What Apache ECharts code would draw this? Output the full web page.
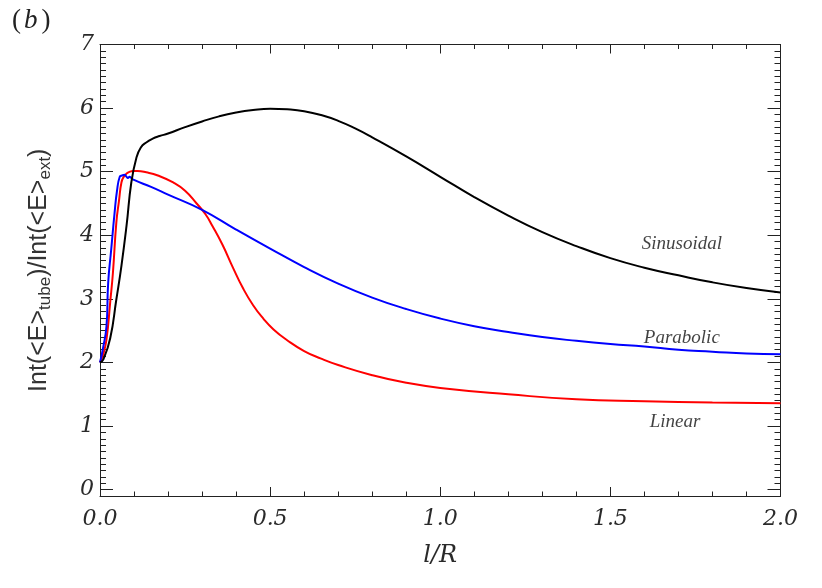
<!DOCTYPE html>
<html><head><meta charset="utf-8">
<script src="https://cdn.jsdelivr.net/npm/echarts@6/dist/echarts.min.js"></script>
<style>html,body{margin:0;padding:0;background:#fff}#c{width:822px;height:588px}</style>
</head><body><div id="c"></div>
<script>
// ---- data ----
const sinX = [0, 0.01, 0.03, 0.048, 0.063, 0.078, 0.092, 0.107, 0.12, 0.136, 0.155, 0.175, 0.2, 0.25, 0.3, 0.35, 0.4, 0.45, 0.5, 0.55, 0.6, 0.65, 0.7, 0.75, 0.8, 0.9, 1.0, 1.1, 1.2, 1.3, 1.4, 1.5, 1.6, 1.7, 1.8, 1.9, 2.0];
const sinY = [2.0, 2.05, 2.38, 2.99, 3.52, 4.15, 4.83, 5.22, 5.38, 5.46, 5.52, 5.56, 5.6, 5.7, 5.79, 5.87, 5.93, 5.97, 5.99, 5.98, 5.95, 5.89, 5.8, 5.68, 5.54, 5.24, 4.92, 4.6, 4.31, 4.05, 3.83, 3.64, 3.49, 3.37, 3.26, 3.17, 3.1];

const parX = [0, 0.008, 0.019, 0.024, 0.033, 0.043, 0.05, 0.058, 0.065, 0.072, 0.078, 0.082, 0.087, 0.092, 0.1, 0.15, 0.2, 0.3, 0.4, 0.5, 0.6, 0.7, 0.8, 0.9, 1.0, 1.1, 1.2, 1.3, 1.4, 1.5, 1.6, 1.7, 1.8, 1.9, 2.0];
const parY = [2.0, 2.2, 2.57, 3.25, 3.78, 4.36, 4.7, 4.92, 4.94, 4.95, 4.92, 4.9, 4.92, 4.9, 4.87, 4.76, 4.64, 4.4, 4.09, 3.79, 3.5, 3.24, 3.02, 2.84, 2.69, 2.57, 2.48, 2.4, 2.34, 2.29, 2.25, 2.2, 2.17, 2.14, 2.13];

const linX = [0, 0.008, 0.019, 0.03, 0.038, 0.048, 0.056, 0.063, 0.07, 0.078, 0.088, 0.097, 0.11, 0.136, 0.17, 0.215, 0.25, 0.284, 0.31, 0.33, 0.36, 0.39, 0.42, 0.45, 0.48, 0.51, 0.55, 0.6, 0.65, 0.7, 0.8, 0.9, 1.0, 1.2, 1.4, 1.6, 1.8, 2.0];
const linY = [2.0, 2.1, 2.36, 2.95, 3.41, 4.2, 4.55, 4.83, 4.92, 4.97, 5.0, 5.01, 5.01, 4.99, 4.94, 4.83, 4.7, 4.5, 4.33, 4.15, 3.85, 3.5, 3.17, 2.9, 2.69, 2.52, 2.35, 2.18, 2.06, 1.96, 1.8, 1.68, 1.6, 1.5, 1.42, 1.39, 1.37, 1.36];

const seriesNames = ['Sinusoidal', 'Parabolic', 'Linear'];
const seriesColors = ['#000000', '#0000ff', '#ff0000'];
const xTickValues = [0, 0.5, 1.0, 1.5, 2.0];
const yTickValues = [0, 1, 2, 3, 4, 5, 6, 7];
// label anchors (data coordinates) for the curve names
const labelAnchors = [[1.71, 3.87], [1.71, 2.39], [1.69, 1.06]];

// ---- build ----
const zip = (xs, ys) => xs.map((x, i) => [x, ys[i]]);
const yMinor = [];
for (let k = -1; k <= 70; k++) { if (k % 10 !== 0) yMinor.push(+(k / 10).toFixed(1)); }

const frameColor = '#222';
const tickFont = { fontFamily: 'DejaVu Serif', fontStyle: 'italic', fontSize: 22, color: '#2a2a2a' };

function yAx(pos, ticks, len, labels) {
  return {
    type: 'value', position: pos, min: -0.1, max: 7,
    axisLine: { show: true, onZero: false, lineStyle: { color: frameColor, width: 1 } },
    axisTick: { show: true, inside: true, length: len, customValues: ticks, lineStyle: { color: frameColor, width: 1 } },
    axisLabel: labels ? Object.assign({ show: true, margin: 6, customValues: yTickValues, formatter: v => String(Math.round(v)) }, tickFont) : { show: false },
    splitLine: { show: false }
  };
}
function xAx(pos, labels) {
  return {
    type: 'value', position: pos, min: 0, max: 2, interval: 0.5,
    axisLine: { show: true, onZero: false, lineStyle: { color: frameColor, width: 1 } },
    axisTick: { show: true, inside: true, length: 9, lineStyle: { color: frameColor, width: 1 } },
    minorTick: { show: true, splitNumber: 5, length: 4.5, lineStyle: { color: frameColor, width: 1 } },
    axisLabel: labels ? Object.assign({ show: true, margin: 12, formatter: v => v.toFixed(1) }, tickFont) : { show: false },
    splitLine: { show: false }, minorSplitLine: { show: false },
    name: labels ? 'l/R' : '', nameLocation: 'middle', nameGap: 48,
    nameTextStyle: { fontFamily: 'DejaVu Serif', fontStyle: 'italic', fontSize: 24, color: '#2a2a2a' }
  };
}

const xAxes = [xAx('bottom', true), xAx('top', false)];
const yAxes = [yAx('left', yTickValues, 13, true), yAx('left', yMinor, 6, false), yAx('right', yTickValues, 13, false), yAx('right', yMinor, 6, false)];
yAxes[0].name = '{m|Int(<E>}{s|tube}{m|)/Int(<E>}{s|ext}{m|)}';
yAxes[0].nameLocation = 'middle';
yAxes[0].nameGap = 46;
yAxes[0].nameTextStyle = {
  color: '#222',
  rich: {
    m: { fontFamily: 'Liberation Sans', fontSize: 25, lineHeight: 30, color: '#333' },
    s: { fontFamily: 'Liberation Sans', fontSize: 17, lineHeight: 17, verticalAlign: 'bottom', color: '#333' }
  }
};

const curves = [zip(sinX, sinY), zip(parX, parY), zip(linX, linY)];
const series = curves.map((d, i) => ({
  type: 'line', name: seriesNames[i], data: d, xAxisIndex: 0, yAxisIndex: 0,
  showSymbol: false, symbol: 'none', smooth: 0.5,
  lineStyle: { color: seriesColors[i], width: 2 }, z: 3 - i + 2
}));
series.push({
  type: 'scatter', xAxisIndex: 0, yAxisIndex: 0, symbolSize: 0,
  data: labelAnchors.map((p, i) => ({ value: p, name: seriesNames[i] })),
  label: { show: true, position: 'inside', formatter: p => p.name,
    fontFamily: 'Liberation Serif', fontStyle: 'italic', fontSize: 19, color: '#111' },
  silent: true
});

const chart = echarts.init(document.getElementById('c'), null, { renderer: 'canvas' });
chart.setOption({
  animation: false,
  backgroundColor: '#fff',
  grid: { left: 100, right: 41.5, top: 44.5, bottom: 92, containLabel: false },
  xAxis: xAxes,
  yAxis: yAxes,
  series: series,
  graphic: [{
    type: 'text', left: 12, top: 7,
    style: { text: '{p|(}{b|b}{p|)}', rich: {
      p: { fontFamily: 'Liberation Serif', fontSize: 27, fill: '#222' },
      b: { fontFamily: 'Liberation Serif', fontStyle: 'italic', fontSize: 27, fill: '#222', padding: [0, 4, 0, 3] } } }
  }]
});
</script></body></html>
